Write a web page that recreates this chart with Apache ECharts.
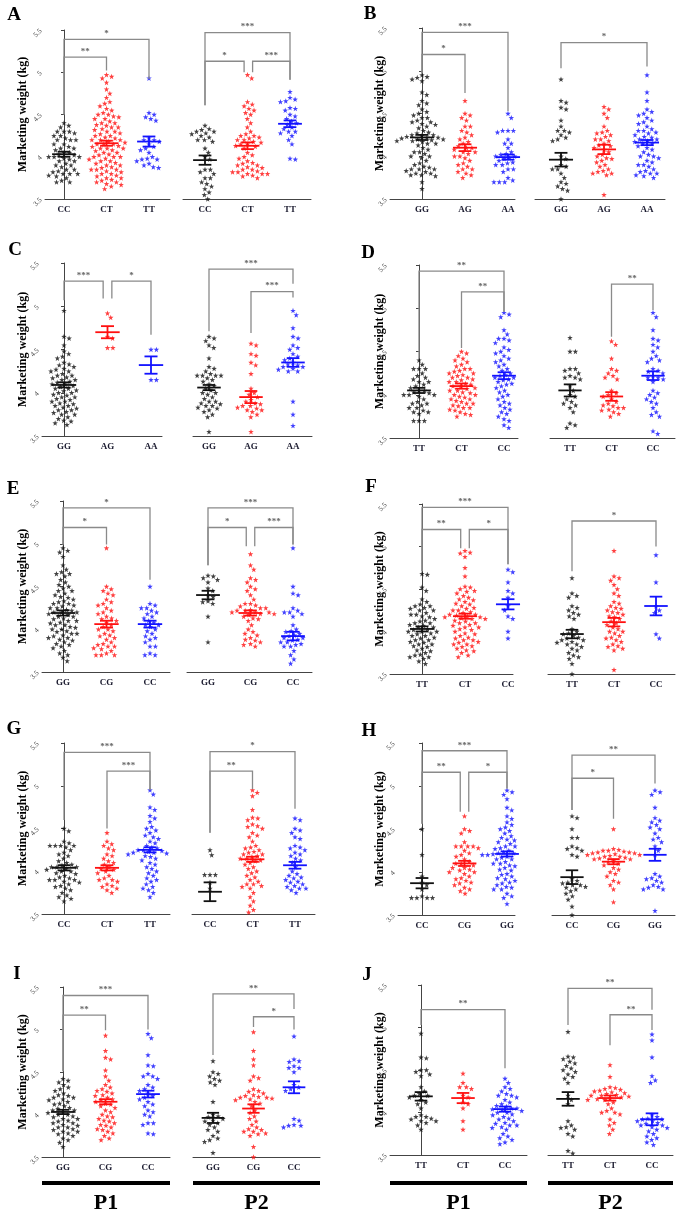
<!DOCTYPE html>
<html><head><meta charset="utf-8">
<script src="https://cdn.jsdelivr.net/npm/echarts@6/dist/echarts.min.js"></script>
<style>html,body{margin:0;padding:0;background:#fff}#c{width:695px;height:1218px}</style>
</head><body><div id="c"></div>
<script>
// ---------- categories ----------
const catsA = ['CC','CT','TT'];
const catsB = ['GG','AG','AA'];
const catsC = ['GG','AG','AA'];
const catsD = ['TT','CT','CC'];
const catsE = ['GG','CG','CC'];
const catsF = ['TT','CT','CC'];
const catsG = ['CC','CT','TT'];
const catsH = ['CC','CG','GG'];
const catsI = ['GG','CG','CC'];
const catsJ = ['TT','CT','CC'];
const yTicks = [3.5, 4, 4.5, 5, 5.5];

// ---------- individual values (kg) ----------
const A1_CC=[4.40,4.37,4.35,4.30,4.30,4.30,4.28,4.25,4.25,4.22,4.20,4.20,4.20,4.15,4.15,4.12,4.10,4.10,4.08,4.05,4.05,4.03,4.02,4.00,4.00,4.00,4.00,3.98,3.97,3.95,3.95,3.92,3.90,3.90,3.88,3.85,3.85,3.83,3.82,3.80,3.80,3.80,3.78,3.77,3.75,3.72,3.70,3.70];
const A1_CT=[4.97,4.95,4.93,4.88,4.80,4.75,4.70,4.65,4.63,4.60,4.57,4.55,4.52,4.50,4.50,4.48,4.47,4.45,4.45,4.42,4.40,4.40,4.38,4.37,4.35,4.35,4.33,4.32,4.30,4.30,4.28,4.27,4.25,4.25,4.23,4.22,4.20,4.20,4.20,4.18,4.17,4.15,4.15,4.15,4.13,4.12,4.10,4.10,4.10,4.08,4.07,4.05,4.05,4.03,4.02,4.00,4.00,4.00,3.98,3.97,3.95,3.95,3.93,3.92,3.90,3.90,3.88,3.87,3.85,3.85,3.85,3.83,3.82,3.80,3.80,3.78,3.77,3.75,3.75,3.73,3.72,3.70,3.70,3.68,3.67,3.65,3.62];
const A1_TT=[4.93,4.52,4.50,4.47,4.45,4.43,4.22,4.20,4.20,4.18,4.15,4.12,4.10,4.08,4.05,4.00,3.98,3.97,3.97,3.95,3.92,3.90,3.88,3.87];
const A2_CC=[4.37,4.33,4.32,4.30,4.30,4.28,4.27,4.25,4.23,4.20,4.20,4.18,4.10,4.05,4.00,3.97,3.85,3.85,3.82,3.80,3.75,3.75,3.70,3.68,3.65,3.62,3.58,3.55,3.50];
const A2_CT=[4.97,4.93,4.65,4.62,4.60,4.57,4.55,4.52,4.50,4.45,4.40,4.35,4.30,4.27,4.25,4.25,4.23,4.22,4.20,4.20,4.18,4.17,4.15,4.15,4.13,4.12,4.10,4.05,4.02,4.00,3.98,3.95,3.93,3.92,3.90,3.90,3.88,3.87,3.85,3.85,3.83,3.82,3.82,3.80,3.80,3.80,3.78,3.77,3.75];
const A2_TT=[4.77,4.70,4.68,4.66,4.65,4.58,4.57,4.55,4.50,4.48,4.45,4.42,4.40,4.38,4.35,4.33,4.30,4.30,4.28,4.25,4.20,4.15,3.98,3.97];

const B1_GG=[4.95,4.93,4.92,4.90,4.88,4.75,4.72,4.65,4.62,4.60,4.55,4.52,4.50,4.48,4.45,4.45,4.42,4.40,4.40,4.38,4.37,4.35,4.33,4.30,4.28,4.27,4.25,4.25,4.24,4.23,4.22,4.22,4.21,4.20,4.20,4.19,4.18,4.18,4.17,4.15,4.15,4.13,4.10,4.08,4.05,4.05,4.03,4.00,4.00,3.98,3.95,3.92,3.90,3.88,3.87,3.85,3.85,3.85,3.83,3.82,3.80,3.80,3.78,3.78,3.77,3.70,3.62];
const B1_AG=[4.65,4.50,4.48,4.45,4.42,4.35,4.35,4.30,4.28,4.25,4.22,4.20,4.17,4.15,4.12,4.10,4.10,4.08,4.05,4.05,4.03,4.00,4.00,3.98,3.95,3.92,3.90,3.88,3.85,3.85,3.82,3.80,3.78,3.75];
const B1_AA=[4.50,4.45,4.30,4.30,4.30,4.30,4.28,4.20,4.15,4.15,4.12,4.10,4.05,4.03,4.02,4.00,4.00,4.00,3.98,3.97,3.95,3.93,3.92,3.90,3.90,3.90,3.88,3.85,3.85,3.82,3.80,3.75,3.72,3.70,3.70,3.70,3.70];
const B2_GG=[4.90,4.65,4.63,4.57,4.55,4.42,4.35,4.30,4.30,4.28,4.25,4.22,4.20,4.18,4.00,3.97,3.90,3.88,3.85,3.85,3.80,3.75,3.70,3.68,3.65,3.62,3.60,3.50];
const B2_AG=[4.58,4.55,4.50,4.45,4.35,4.30,4.28,4.27,4.25,4.23,4.20,4.20,4.18,4.15,4.13,4.12,4.10,4.08,4.05,4.02,4.00,3.98,3.97,3.95,3.93,3.90,3.88,3.85,3.83,3.82,3.80,3.80,3.78,3.55];
const B2_AA=[4.95,4.75,4.65,4.55,4.52,4.50,4.48,4.45,4.42,4.40,4.38,4.35,4.32,4.30,4.30,4.28,4.27,4.25,4.23,4.22,4.20,4.20,4.18,4.17,4.15,4.15,4.12,4.10,4.08,4.05,4.02,4.00,4.00,3.98,3.95,3.93,3.90,3.90,3.88,3.85,3.83,3.82,3.80,3.80,3.78,3.77,3.75];

const C1_GG=[4.95,4.65,4.63,4.55,4.48,4.45,4.42,4.40,4.35,4.33,4.32,4.30,4.28,4.27,4.25,4.25,4.22,4.20,4.20,4.18,4.17,4.15,4.15,4.13,4.12,4.10,4.10,4.08,4.07,4.05,4.05,4.03,4.02,4.00,4.00,3.98,3.97,3.95,3.95,3.93,3.92,3.90,3.90,3.88,3.87,3.85,3.85,3.83,3.82,3.80,3.80,3.78,3.77,3.75,3.75,3.72,3.70,3.68,3.67,3.65,3.63];
const C1_AG=[4.92,4.87,4.65,4.63,4.52,4.52];
const C1_AA=[4.50,4.50,4.15,4.15];
const C2_GG=[4.65,4.63,4.60,4.55,4.52,4.40,4.30,4.28,4.25,4.22,4.20,4.20,4.20,4.20,4.18,4.17,4.15,4.13,4.10,4.08,4.05,4.03,4.00,4.00,3.98,3.95,3.93,3.90,3.90,3.88,3.87,3.85,3.85,3.83,3.82,3.80,3.78,3.75,3.72,3.55];
const C2_AG=[4.57,4.55,4.45,4.43,4.35,4.32,4.22,4.05,4.00,3.98,3.95,3.92,3.90,3.88,3.87,3.85,3.85,3.83,3.82,3.80,3.80,3.78,3.75,3.72,3.55];
const C2_AA=[4.95,4.90,4.75,4.65,4.63,4.55,4.52,4.50,4.45,4.42,4.40,4.38,4.35,4.33,4.32,4.30,4.30,4.28,4.27,4.25,4.25,3.90,3.75,3.62];

const D1_TT=[4.40,4.35,4.30,4.30,4.30,4.25,4.22,4.20,4.18,4.15,4.15,4.12,4.10,4.08,4.05,4.05,4.03,4.02,4.00,4.00,4.00,3.98,3.95,3.92,3.90,3.90,3.88,3.85,3.85,3.82,3.80,3.80,3.78,3.70,3.70,3.70];
const D1_CT=[4.50,4.48,4.45,4.42,4.40,4.38,4.35,4.33,4.30,4.30,4.28,4.27,4.25,4.25,4.23,4.22,4.20,4.20,4.18,4.17,4.15,4.15,4.13,4.12,4.10,4.10,4.08,4.07,4.05,4.05,4.03,4.02,4.00,4.00,3.98,3.97,3.95,3.95,3.93,3.92,3.90,3.90,3.88,3.87,3.85,3.85,3.83,3.82,3.80,3.78,3.77,3.75];
const D1_CC=[4.95,4.93,4.90,4.75,4.70,4.65,4.65,4.63,4.60,4.55,4.52,4.50,4.48,4.45,4.42,4.40,4.38,4.35,4.33,4.30,4.28,4.25,4.23,4.22,4.20,4.20,4.18,4.17,4.15,4.13,4.12,4.10,4.08,4.05,4.03,4.00,3.98,3.95,3.92,3.90,3.88,3.85,3.83,3.80,3.78,3.75,3.72,3.70,3.65,3.62];
const D2_TT=[4.66,4.50,4.50,4.30,4.30,4.28,4.25,4.22,4.20,4.20,4.18,4.10,4.05,4.00,3.98,3.95,3.92,3.90,3.88,3.85,3.80,3.67,3.65,3.62];
const D2_CT=[4.62,4.58,4.42,4.30,4.28,4.25,4.22,4.20,4.18,4.05,4.02,4.00,3.98,3.95,3.92,3.90,3.88,3.87,3.85,3.85,3.83,3.82,3.80,3.78,3.75];
const D2_CC=[4.95,4.90,4.75,4.65,4.63,4.58,4.55,4.50,4.45,4.42,4.40,4.38,4.30,4.28,4.27,4.25,4.22,4.20,4.20,4.18,4.15,4.05,4.02,4.00,3.97,3.95,3.92,3.90,3.85,3.80,3.77,3.75,3.58,3.55];

const E1_GG=[4.95,4.92,4.90,4.85,4.75,4.70,4.67,4.65,4.65,4.62,4.58,4.55,4.52,4.50,4.48,4.45,4.45,4.42,4.40,4.38,4.37,4.35,4.33,4.32,4.30,4.30,4.28,4.27,4.25,4.25,4.23,4.22,4.20,4.20,4.20,4.18,4.17,4.15,4.15,4.13,4.12,4.10,4.10,4.08,4.07,4.05,4.05,4.03,4.02,4.00,4.00,3.98,3.97,3.95,3.95,3.93,3.92,3.90,3.90,3.88,3.87,3.85,3.83,3.82,3.80,3.78,3.75,3.72,3.70,3.67,3.63];
const E1_CG=[4.95,4.50,4.47,4.45,4.42,4.40,4.35,4.32,4.30,4.28,4.25,4.22,4.20,4.18,4.15,4.13,4.12,4.10,4.08,4.05,4.03,4.00,4.00,3.98,3.95,3.93,3.92,3.90,3.88,3.85,3.83,3.82,3.80,3.80,3.78,3.77,3.75,3.72,3.70,3.70,3.70];
const E1_CC=[4.50,4.30,4.28,4.25,4.25,4.22,4.20,4.18,4.15,4.13,4.10,4.08,4.05,4.05,4.03,4.00,3.98,3.95,3.92,3.90,3.88,3.85,3.80,3.80,3.72,3.70,3.70];
const E2_GG=[4.63,4.62,4.60,4.58,4.55,4.48,4.45,4.40,4.38,4.33,4.32,4.30,4.15,3.85];
const E2_CG=[4.88,4.75,4.70,4.60,4.58,4.55,4.50,4.47,4.45,4.40,4.35,4.30,4.30,4.28,4.27,4.25,4.25,4.23,4.22,4.22,4.20,4.20,4.20,4.18,4.18,4.17,4.15,4.13,4.12,4.10,4.05,4.00,3.97,3.95,3.93,3.90,3.88,3.87,3.85,3.83,3.82,3.80];
const E2_CC=[4.95,4.50,4.42,4.40,4.25,4.22,4.20,4.20,4.18,4.15,4.05,4.00,3.98,3.97,3.95,3.93,3.92,3.90,3.90,3.88,3.87,3.85,3.85,3.83,3.82,3.80,3.80,3.75,3.70,3.65,3.60];

const F1_TT=[4.68,4.67,4.52,4.48,4.38,4.35,4.32,4.30,4.30,4.28,4.27,4.25,4.25,4.22,4.20,4.20,4.18,4.17,4.15,4.13,4.12,4.10,4.10,4.08,4.07,4.05,4.05,4.03,4.02,4.00,4.00,4.00,3.98,3.97,3.95,3.95,3.93,3.92,3.90,3.90,3.88,3.87,3.85,3.85,3.83,3.82,3.80,3.78,3.77,3.75,3.73,3.72,3.70,3.70,3.68,3.65,3.62];
const F1_CT=[4.95,4.93,4.92,4.88,4.75,4.65,4.53,4.52,4.50,4.48,4.47,4.45,4.42,4.40,4.38,4.37,4.35,4.33,4.32,4.30,4.28,4.27,4.25,4.25,4.23,4.22,4.20,4.20,4.19,4.18,4.17,4.17,4.16,4.15,4.15,4.13,4.12,4.10,4.10,4.08,4.07,4.05,4.05,4.03,4.02,4.00,3.98,3.97,3.95,3.93,3.92,3.90,3.90,3.88,3.87,3.85,3.85,3.83,3.82,3.80,3.78,3.77,3.75,3.72,3.70];
const F1_CC=[4.73,4.70,4.58,4.57,4.48,4.45,4.40,4.38,4.30,4.28,4.25,4.18,4.15,4.00,3.98,3.92,3.90];
const F2_TT=[4.63,4.45,4.42,4.40,4.30,4.28,4.25,4.22,4.20,4.18,4.15,4.03,4.00,3.98,3.97,3.95,3.93,3.92,3.90,3.90,3.88,3.87,3.85,3.85,3.82,3.80,3.78,3.75,3.72,3.70,3.68,3.62,3.50];
const F2_CT=[4.95,4.65,4.63,4.60,4.55,4.50,4.45,4.42,4.35,4.33,4.30,4.28,4.27,4.25,4.23,4.22,4.20,4.18,4.17,4.15,4.12,4.10,4.08,4.05,4.03,4.00,4.00,3.98,3.95,3.93,3.92,3.90,3.88,3.85,3.83,3.82,3.80,3.78,3.55];
const F2_CC=[4.90,4.58,4.30,4.25,4.22,3.97,3.92];

const G1_CC=[4.50,4.47,4.35,4.33,4.30,4.30,4.30,4.30,4.28,4.25,4.22,4.20,4.18,4.15,4.12,4.10,4.08,4.07,4.05,4.05,4.05,4.03,4.02,4.00,4.00,3.98,3.97,3.95,3.93,3.92,3.90,3.90,3.90,3.88,3.87,3.85,3.83,3.82,3.80,3.78,3.75,3.72,3.70,3.68,3.65];
const G1_CT=[4.45,4.35,4.32,4.30,4.27,4.25,4.20,4.18,4.15,4.12,4.10,4.08,4.05,4.03,4.02,4.00,3.98,3.95,3.92,3.90,3.90,3.88,3.85,3.83,3.82,3.80,3.78,3.75];
const G1_TT=[4.95,4.90,4.75,4.72,4.65,4.62,4.58,4.52,4.50,4.48,4.45,4.42,4.40,4.38,4.35,4.33,4.30,4.28,4.27,4.25,4.25,4.24,4.23,4.22,4.22,4.21,4.20,4.20,4.18,4.17,4.15,4.13,4.10,4.08,4.05,4.03,4.00,3.98,3.95,3.92,3.90,3.88,3.85,3.82,3.80,3.78,3.75,3.70];
const G2_CC=[4.25,4.19,3.96,3.96,3.96,3.87,3.80];
const G2_CT=[4.95,4.92,4.88,4.72,4.63,4.62,4.60,4.55,4.53,4.52,4.50,4.45,4.42,4.40,4.35,4.30,4.28,4.27,4.25,4.23,4.22,4.20,4.20,4.18,4.17,4.15,4.15,4.13,4.12,4.10,4.08,4.05,4.03,4.00,3.98,3.95,3.93,3.90,3.88,3.85,3.85,3.83,3.82,3.80,3.75,3.70,3.65,3.60,3.55,3.52];
const G2_TT=[4.62,4.60,4.50,4.48,4.45,4.40,4.38,4.30,4.28,4.27,4.25,4.22,4.20,4.18,4.15,4.13,4.10,4.05,4.00,3.97,3.95,3.93,3.92,3.90,3.88,3.87,3.85,3.83,3.82,3.80,3.80,3.78,3.75];

const H1_CC=[4.50,4.20,3.95,3.88,3.85,3.80,3.70,3.70,3.70,3.70,3.72];
const H1_CG=[4.65,4.50,4.48,4.45,4.35,4.30,4.30,4.30,4.30,4.28,4.25,4.22,4.20,4.18,4.15,4.12,4.10,4.10,4.08,4.05,4.05,4.03,4.02,4.00,4.00,3.98,3.95,3.93,3.92,3.90,3.88,3.87,3.85,3.82,3.80,3.78,3.75];
const H1_GG=[4.95,4.93,4.90,4.85,4.75,4.72,4.65,4.62,4.58,4.55,4.52,4.50,4.48,4.45,4.42,4.40,4.38,4.37,4.35,4.33,4.30,4.30,4.28,4.27,4.25,4.25,4.24,4.23,4.22,4.22,4.21,4.20,4.20,4.20,4.19,4.18,4.17,4.15,4.15,4.13,4.12,4.10,4.10,4.08,4.07,4.05,4.03,4.02,4.00,3.98,3.97,3.95,3.93,3.92,3.90,3.88,3.87,3.85,3.85,3.83,3.82,3.80,3.80,3.78,3.75,3.72,3.70,3.63];
const H2_CC=[4.65,4.63,4.50,4.40,4.40,4.30,4.28,4.27,4.25,4.20,4.18,3.92,3.90,3.88,3.87,3.85,3.85,3.83,3.82,3.80,3.78,3.75,3.72,3.68,3.60,3.50];
const H2_CG=[4.50,4.27,4.26,4.25,4.25,4.24,4.23,4.23,4.22,4.22,4.21,4.20,4.20,4.19,4.18,4.18,4.17,4.16,4.15,4.15,4.13,4.12,4.10,4.08,4.05,4.03,4.00,3.98,3.95,3.90,3.88,3.85,3.80,3.65];
const H2_GG=[4.95,4.93,4.90,4.75,4.63,4.60,4.58,4.55,4.52,4.50,4.45,4.40,4.38,4.35,4.30,4.25,4.20,3.98,3.95,3.93,3.92,3.90,3.88,3.85,3.83,3.82,3.80,3.80,3.55];

const I1_GG=[4.42,4.40,4.38,4.35,4.32,4.30,4.28,4.25,4.23,4.22,4.20,4.20,4.18,4.17,4.15,4.13,4.12,4.10,4.08,4.07,4.05,4.05,4.03,4.02,4.00,4.00,3.98,3.97,3.95,3.95,3.93,3.92,3.90,3.90,3.88,3.87,3.85,3.85,3.83,3.82,3.80,3.80,3.78,3.77,3.75,3.72,3.70,3.67,3.62];
const I1_CG=[4.93,4.75,4.67,4.65,4.52,4.45,4.40,4.35,4.32,4.30,4.28,4.27,4.25,4.23,4.22,4.20,4.18,4.17,4.15,4.13,4.12,4.10,4.08,4.05,4.03,4.00,3.98,3.97,3.95,3.93,3.92,3.90,3.88,3.87,3.85,3.83,3.82,3.80,3.78,3.75,3.72,3.70];
const I1_CC=[4.95,4.90,4.70,4.58,4.57,4.48,4.45,4.45,4.42,4.35,4.32,4.30,4.28,4.25,4.22,4.20,4.18,4.15,4.12,4.10,4.05,4.03,4.00,3.98,3.90,3.90,3.88,3.78,3.77];
const I2_GG=[4.63,4.50,4.48,4.45,4.42,4.40,4.38,4.35,4.15,4.00,3.98,3.97,3.95,3.93,3.92,3.90,3.88,3.85,3.82,3.80,3.75,3.72,3.70,3.68,3.55];
const I2_CG=[4.97,4.75,4.65,4.58,4.45,4.43,4.40,4.30,4.28,4.27,4.25,4.23,4.22,4.21,4.20,4.20,4.19,4.18,4.17,4.15,4.13,4.10,4.05,4.02,3.98,3.95,3.92,3.88,3.85,3.83,3.82,3.80,3.80,3.78,3.77,3.75,3.62,3.50];
const I2_CC=[4.92,4.65,4.63,4.62,4.57,4.55,4.55,4.50,4.35,4.32,4.30,4.28,3.95,3.93,3.88,3.87,3.87,3.85];

const J1_TT=[4.93,4.65,4.64,4.50,4.50,4.48,4.45,4.43,4.30,4.25,4.22,4.20,4.20,4.18,4.15,4.12,4.10,4.05,3.97,3.95,3.95,3.93,3.92,3.90,3.90,3.88,3.85,3.80];
const J1_CT=[4.46,4.35,4.30,4.30,4.28,4.20,4.18,4.12,4.10,4.05,3.90,3.80];
const J1_CC=[4.40,4.35,4.30,4.28,4.25,4.22,4.20,4.20,4.18,4.15,4.12,4.10,4.08,4.07,4.05,4.05,4.04,4.03,4.02,4.00,4.00,3.98,3.97,3.95,3.93,3.92,3.90,3.88,3.87,3.85,3.85,3.83,3.82,3.80,3.75,3.72,3.70,3.68,3.65,3.63];
const J2_TT=[4.95,4.66,4.65,4.63,4.60,4.58,4.55,4.52,4.50,4.48,4.45,4.42,4.40,4.35,4.20,4.15,4.10,3.90,3.85,3.83,3.82,3.80,3.75,3.72,3.55,3.52];
const J2_CT=[4.56,4.42,4.30,4.29,4.28,4.27,4.26,4.25,4.24,4.23,4.22,4.21,4.20,4.20,4.19,4.18,4.17,4.16,4.15,4.15,4.12,4.10,4.05,4.02,4.00,4.00,3.98,3.92,3.88,3.85,3.80,3.75];
const J2_CC=[4.92,4.85,4.65,4.43,4.38,4.35,3.97,3.95,3.93,3.92,3.92,3.90,3.90,3.88,3.87,3.85,3.85,3.83,3.82,3.80,3.78,3.75,3.72,3.70,3.68,3.65,3.62];

// ---------- mean and SEM (as drawn) ----------
const meanA1=[4.03,4.16,4.18], semA1=[0.03,0.03,0.06];
const meanA2=[3.96,4.13,4.39], semA2=[0.055,0.04,0.04];
const meanB1=[4.22,4.10,3.99], semB1=[0.03,0.04,0.03];
const meanB2=[3.96,4.08,4.16], semB2=[0.08,0.055,0.03];
const meanC1=[4.09,4.70,4.32], semC1=[0.03,0.07,0.10];
const meanC2=[4.06,3.95,4.35], semC2=[0.03,0.07,0.05];
const meanD1=[4.05,4.10,4.22], semD1=[0.03,0.03,0.04];
const meanD2=[4.05,3.98,4.22], semD2=[0.07,0.05,0.05];
const meanE1=[4.19,4.06,4.06], semE1=[0.03,0.04,0.04];
const meanE2=[4.40,4.19,3.92], semE2=[0.05,0.03,0.05];
const meanF1=[4.03,4.18,4.32], semF1=[0.03,0.03,0.06];
const meanF2=[3.97,4.11,4.30], semF2=[0.05,0.05,0.11];
const meanG1=[4.04,4.04,4.25], semG1=[0.03,0.03,0.03];
const meanG2=[3.76,4.14,4.07], semG2=[0.11,0.03,0.04];
const meanH1=[3.87,4.10,4.21], semH1=[0.06,0.03,0.03];
const meanH2=[3.94,4.12,4.20], semH2=[0.08,0.03,0.07];
const meanI1=[4.03,4.15,4.24], semI1=[0.025,0.03,0.04];
const meanI2=[3.96,4.07,4.32], semI2=[0.06,0.05,0.07];
const meanJ1=[4.19,4.17,4.04], semJ1=[0.05,0.06,0.03];
const meanJ2=[4.16,4.17,3.92], semJ2=[0.08,0.03,0.07];

// ---------- significance brackets: [from, to, top, leftLegEnd, rightLegEnd, label] ----------
const brA1=[[0,2,5.39,4.50,4.92,'*'],[0,1,5.18,4.50,5.02,'**']];
const brA2=[[0,2,5.47,4.61,4.91,'***'],[0,0.92,5.13,4.61,5.00,'*'],[1.12,2,5.13,5.00,4.91,'***']];
const brB1=[[0,2,5.45,4.97,4.53,'***'],[0,1,5.19,4.97,4.74,'*']];
const brB2=[[0,2,5.33,5.03,5.05,'*']];
const brC1=[[0,0.9,5.29,5.07,5.09,'***'],[1.1,2,5.29,5.09,4.67,'*']];
const brC2=[[0,2,5.43,4.71,5.26,'***'],[1,2,5.17,4.69,5.10,'***']];
const brD1=[[0,2,5.43,4.42,4.96,'**'],[1,2,5.19,4.54,4.96,'**']];
const brD2=[[1,2,5.28,4.67,4.98,'**']];
const brE1=[[0,2,5.42,4.99,4.58,'*'],[0,1,5.19,4.99,4.99,'*']];
const brE2=[[0,2,5.42,4.75,4.99,'***'],[0,0.9,5.19,4.75,4.97,'*'],[1.1,2,5.19,4.97,4.99,'***']];
const brF1=[[0,2,5.46,4.71,4.79,'***'],[0,0.9,5.20,4.71,4.98,'**'],[1.1,2,5.20,4.98,4.79,'*']];
const brF2=[[0,2,5.30,4.71,5.00,'*']];
const brG1=[[0,2,5.39,4.60,4.95,'***'],[1,2,5.17,4.50,4.95,'***']];
const brG2=[[0,2,5.40,4.45,4.73,'*'],[0,1,5.17,4.45,4.96,'**']];
const brH1=[[0,2,5.41,4.56,4.97,'***'],[0,0.9,5.16,4.56,4.70,'**'],[1.1,2,5.16,4.70,4.97,'*']];
const brH2=[[0,2,5.36,4.72,5.03,'**'],[0,1,5.09,4.72,4.62,'*']];
const brI1=[[0,2,5.40,4.51,5.00,'***'],[0,1,5.17,4.51,4.99,'**']];
const brI2=[[0,2,5.42,4.70,5.24,'**'],[1,2,5.15,5.03,5.00,'*']];
const brJ1=[[0,2,5.21,5.03,4.52,'**']];
const brJ2=[[0,2,5.46,5.03,5.21,'**'],[1,2,5.15,4.79,4.97,'**']];

// ---------- layout (pixels): [axisStart, axisEnd, cat0, cat2, top(5.5), bottom(3.5)] ----------
const panels = [
 {L:'A', cats:catsA, lx:14, ly:15, subs:[
   {d:[A1_CC,A1_CT,A1_TT], m:meanA1, s:semA1, br:brA1, box:[45,170,64,149,30,199]},
   {d:[A2_CC,A2_CT,A2_TT], m:meanA2, s:semA2, br:brA2, box:[183,311,205,290,30,199]}]},
 {L:'B', cats:catsB, lx:370, ly:14, subs:[
   {d:[B1_GG,B1_AG,B1_AA], m:meanB1, s:semB1, br:brB1, box:[390,515,422,508,28,199]},
   {d:[B2_GG,B2_AG,B2_AA], m:meanB2, s:semB2, br:brB2, box:[535,665,561,647,28,199]}]},
 {L:'C', cats:catsC, lx:15, ly:250, subs:[
   {d:[C1_GG,C1_AG,C1_AA], m:meanC1, s:semC1, br:brC1, box:[42,162,64,151,263,436]},
   {d:[C2_GG,C2_AG,C2_AA], m:meanC2, s:semC2, br:brC2, box:[193,312,209,293,263,436]}]},
 {L:'D', cats:catsD, lx:368, ly:253, subs:[
   {d:[D1_TT,D1_CT,D1_CC], m:meanD1, s:semD1, br:brD1, box:[390,518,419,504,265,438]},
   {d:[D2_TT,D2_CT,D2_CC], m:meanD2, s:semD2, br:brD2, box:[550,675,570,653,265,438]}]},
 {L:'E', cats:catsE, lx:13, ly:489, subs:[
   {d:[E1_GG,E1_CG,E1_CC], m:meanE1, s:semE1, br:brE1, box:[42,170,63,150,501,672]},
   {d:[E2_GG,E2_CG,E2_CC], m:meanE2, s:semE2, br:brE2, box:[187,312,208,293,501,672]}]},
 {L:'F', cats:catsF, lx:371, ly:487, subs:[
   {d:[F1_TT,F1_CT,F1_CC], m:meanF1, s:semF1, br:brF1, box:[390,513,422,508,504,674]},
   {d:[F2_TT,F2_CT,F2_CC], m:meanF2, s:semF2, br:brF2, box:[548,675,572,656,504,674]}]},
 {L:'G', cats:catsG, lx:14, ly:729, subs:[
   {d:[G1_CC,G1_CT,G1_TT], m:meanG1, s:semG1, br:brG1, box:[42,170,64,150,743,914]},
   {d:[G2_CC,G2_CT,G2_TT], m:meanG2, s:semG2, br:brG2, box:[192,315,210,295,743,914]}]},
 {L:'H', cats:catsH, lx:369, ly:731, subs:[
   {d:[H1_CC,H1_CG,H1_GG], m:meanH1, s:semH1, br:brH1, box:[398,515,422,507,743,915]},
   {d:[H2_CC,H2_CG,H2_GG], m:meanH2, s:semH2, br:brH2, box:[552,675,572,655,743,915]}]},
 {L:'I', cats:catsI, lx:17, ly:974, subs:[
   {d:[I1_GG,I1_CG,I1_CC], m:meanI1, s:semI1, br:brI1, box:[42,170,63,148,987,1157]},
   {d:[I2_GG,I2_CG,I2_CC], m:meanI2, s:semI2, br:brI2, box:[193,320,213,294,987,1157]}]},
 {L:'J', cats:catsJ, lx:367, ly:975, subs:[
   {d:[J1_TT,J1_CT,J1_CC], m:meanJ1, s:semJ1, br:brJ1, box:[390,527,421,505,985,1155]},
   {d:[J2_TT,J2_CT,J2_CC], m:meanJ2, s:semJ2, br:brJ2, box:[548,673,568,652,985,1155]}]}
];

const colors = ['#111111','#ff1010','#1212ff'];
const STAR = 'path://M0,-10L2.35,-3.24L9.51,-3.09L3.8,1.24L5.88,8.09L0,4L-5.88,8.09L-3.8,1.24L-9.51,-3.09L-2.35,-3.24Z';
const SERIF = '"Liberation Serif","DejaVu Serif",serif';

// beeswarm placement (deterministic, collision-based)
function swarm(vals, pxX, pxY, d) {
  const order = vals.map((v,i)=>i).sort((a,b)=>vals[b]-vals[a]);
  const placed = [], out = new Array(vals.length);
  for (const i of order) {
    const y = vals[i]*pxY, iv = [];
    for (const p of placed) {
      const dy = Math.abs(p.y - y);
      if (dy < d) { const w = Math.sqrt(d*d - dy*dy); iv.push([p.x - w, p.x + w]); }
    }
    const cands = [0]; iv.forEach(q => cands.push(q[0], q[1]));
    cands.sort((a,b)=>(Math.abs(a)-Math.abs(b)) || (b-a));
    let x = 0;
    for (const c of cands) { if (iv.every(q => c <= q[0]+1e-6 || c >= q[1]-1e-6)) { x = c; break; } }
    placed.push({x, y}); out[i] = x / pxX;
  }
  return out;
}

const grid=[], xAxis=[], yAxis=[], series=[], graphic=[];
let gi = 0;
panels.forEach((P, pi) => {
  const rightCol = pi % 2 === 1;
  graphic.push({type:'text', x:P.lx, y:P.ly, style:{text:P.L, font:'bold 19px '+SERIF, fill:'#000', align:'center', verticalAlign:'middle'}});
  P.subs.forEach((S, si) => {
    const [xs, xe, c0, c2, top, bot] = S.box;
    const sp = (c2 - c0) / 2;
    const pxY = (bot - top) / 2;
    grid.push({left:xs, top:top, width:xe-xs, height:bot-top});
    xAxis.push({gridIndex:gi, type:'value', min:-(c0-xs)/sp, max:2+(xe-c2)/sp,
      axisLine:{show:true, onZero:false, lineStyle:{color:'#444', width:1}},
      axisTick:{show:false}, splitLine:{show:false},
      axisLabel:{customValues:[0,1,2], formatter:(v)=>P.cats[Math.round(v)], fontFamily:SERIF, fontWeight:'bold', fontSize:9, color:'#1c1c30', margin:6}});
    yAxis.push({gridIndex:gi, type:'value', min:3.5, max:5.5, interval:0.5,
      axisLine:{show:si===0, lineStyle:{color:'#444', width:1}},
      axisTick:{show:si===0, length:3, lineStyle:{color:'#444'}},
      axisLabel:{show:si===0, rotate:45, fontSize:7, color:'#444', fontFamily:SERIF, margin:4, customValues:yTicks},
      splitLine:{show:false}});
    // points
    S.d.forEach((vals, k) => {
      const off = swarm(vals, sp, pxY, 5.4);
      series.push({type:'scatter', xAxisIndex:gi, yAxisIndex:gi, symbol:STAR, symbolSize:5.5, silent:true,
        itemStyle:{color:colors[k]}, data: vals.map((v,i)=>[k + off[i], v]), z:2});
    });
    // mean +- SEM
    series.push({type:'custom', xAxisIndex:gi, yAxisIndex:gi, silent:true, z:5,
      data: S.m.map((m,k)=>[k, m, S.s[k]]),
      renderItem:(params, api) => {
        const k = api.value(0), m = api.value(1), e = api.value(2);
        const c = colors[k];
        const pm1 = api.coord([k-0.28, m]), pm2 = api.coord([k+0.28, m]);
        const pu1 = api.coord([k-0.15, m+e]), pu2 = api.coord([k+0.15, m+e]);
        const pl1 = api.coord([k-0.15, m-e]), pl2 = api.coord([k+0.15, m-e]);
        const st = {stroke:c, lineWidth:1.8};
        return {type:'group', children:[
          {type:'line', shape:{x1:pm1[0],y1:pm1[1],x2:pm2[0],y2:pm2[1]}, style:st},
          {type:'line', shape:{x1:pu1[0],y1:pu1[1],x2:pu2[0],y2:pu2[1]}, style:st},
          {type:'line', shape:{x1:pl1[0],y1:pl1[1],x2:pl2[0],y2:pl2[1]}, style:st},
          {type:'line', shape:{x1:(pu1[0]+pu2[0])/2,y1:pu1[1],x2:(pl1[0]+pl2[0])/2,y2:pl1[1]}, style:st}
        ]};
      }});
    // significance brackets
    const brs = S.br;
    series.push({type:'custom', xAxisIndex:gi, yAxisIndex:gi, silent:true, z:4,
      data: brs.map((b,i)=>[b[0], b[2], i]),
      renderItem:(params, api) => {
        const b = brs[params.dataIndex];
        const a1 = api.coord([b[0], b[3]]), a2 = api.coord([b[0], b[2]]);
        const b2 = api.coord([b[1], b[2]]), b1 = api.coord([b[1], b[4]]);
        return {type:'group', children:[
          {type:'polyline', shape:{points:[a1,a2,b2,b1]}, style:{stroke:'#8a8a8a', lineWidth:1.3, fill:null}},
          {type:'text', x:(a2[0]+b2[0])/2, y:a2[1]-1, style:{text:b[5], font:'bold 9px '+SERIF, fill:'#666', align:'center', verticalAlign:'bottom'}}
        ]};
      }});
    if (si === 0) {
      graphic.push({type:'text', x: rightCol ? 380 : 23, y:(top+bot)/2, rotation:Math.PI/2,
        style:{text:'Marketing weight (kg)', font:'bold 12px '+SERIF, fill:'#000', align:'center', verticalAlign:'middle'}});
    }
    if (pi >= 8) {
      graphic.push({type:'rect', shape:{x:xs, y:1181, width:xe-xs, height:4}, style:{fill:'#000'}});
      graphic.push({type:'text', x:(xs+xe)/2, y:1203, style:{text: si===0?'P1':'P2', font:'bold 22px '+SERIF, fill:'#000', align:'center', verticalAlign:'middle'}});
    }
    gi++;
  });
});

const chart = echarts.init(document.getElementById('c'), null, {renderer:'canvas'});
chart.setOption({animation:false, backgroundColor:'#fff', grid, xAxis, yAxis, series, graphic});
</script></body></html>
